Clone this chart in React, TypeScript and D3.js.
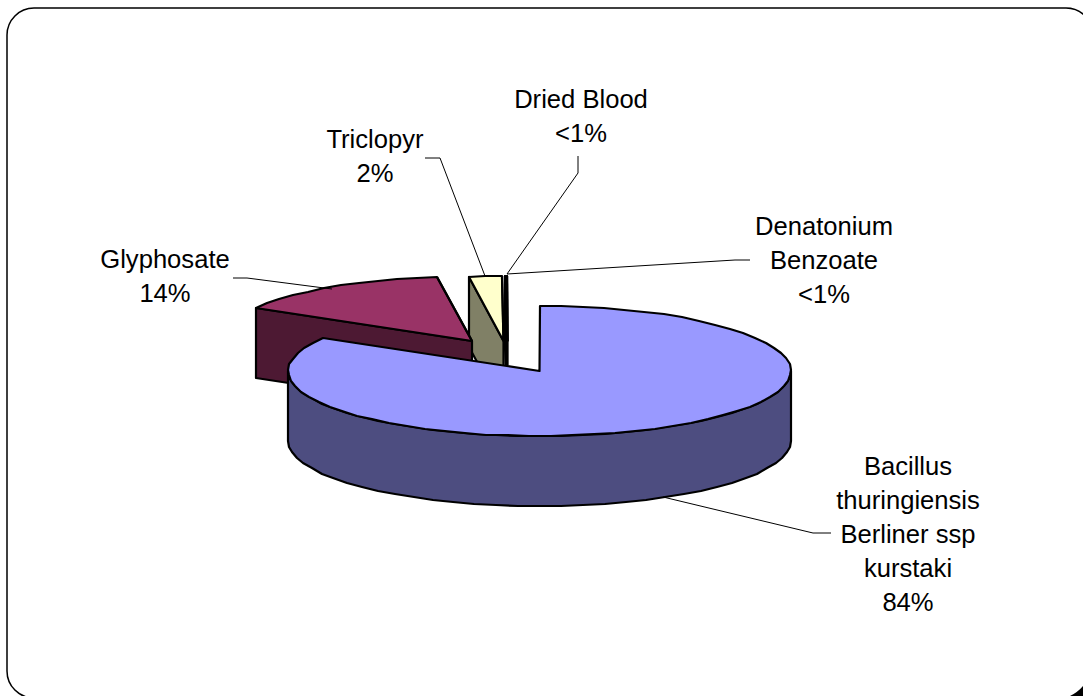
import React from "react";
import * as d3 from "d3";

const categories = ["Bacillus thuringiensis Berliner ssp kurstaki", "Glyphosate", "Triclopyr", "Dried Blood", "Denatonium Benzoate"];
const seriesValues = [83.5, 14.3, 2.1, 0.05, 0.05];
const topColors = ["#9999FF", "#993366", "#FFFFCC", "#CCFFFF", "#660066"];
const wallColors = ["#4D4D80", "#4D1933", "#808066", "#668080", "#330033"];
const centers: [number, number][] = [[539.5, 371], [472, 341], [503.5, 341], [507, 341], [507.5, 341]];
const labelLines = [
  { lines: ["Bacillus", "thuringiensis", "Berliner ssp", "kurstaki", "84%"], x: 908, y: 475 },
  { lines: ["Glyphosate", "14%"], x: 165, y: 268 },
  { lines: ["Triclopyr", "2%"], x: 375, y: 148 },
  { lines: ["Dried Blood", "<1%"], x: 581, y: 108 },
  { lines: ["Denatonium", "Benzoate", "<1%"], x: 824, y: 235 },
];
const leaders: [number, number][][] = [
  [[663, 497], [813, 533], [831, 533]],
  [[233, 278], [247, 278], [332, 289]],
  [[425, 158], [440, 158], [485, 276]],
  [[578, 156], [578, 173], [507, 274]],
  [[507, 274], [735, 260], [750, 260]],
];

const RX = 251.5, RY = 65, DEPTH = 70, LINE = 34;
const pie = d3.pie<number>().sort(null).value((d) => d).startAngle(0).endAngle(2 * Math.PI);
const arcs = pie(seriesValues);
const line = d3.line<[number, number]>();

const pt = (c: [number, number], a: number, dy = 0): [number, number] => [
  Math.round(c[0] + RX * Math.sin(a)),
  Math.round(c[1] - RY * Math.cos(a) + dy),
];
const sample = (c: [number, number], a0: number, a1: number, dy = 0) => {
  const n = Math.max(1, Math.ceil(Math.abs(a1 - a0) / (5 * Math.PI / 180)));
  return d3.range(n + 1).map((i) => pt(c, a0 + ((a1 - a0) * i) / n, dy));
};

const Slice = ({ i }: { i: number }) => {
  const c = centers[i];
  const { startAngle: s, endAngle: e } = arcs[i];
  const top: [number, number][] = [c, ...sample(c, s, e)];
  const sp = pt(c, s), ep = pt(c, e);
  const base: [number, number] = [c[0], c[1] + DEPTH];
  const faces: [number, number][][] = [];
  if (i > 0) {
    faces.push([c, sp, pt(c, s, DEPTH), base]);
  }
  const a0 = Math.max(s, Math.PI / 2), a1 = Math.min(e, 1.5 * Math.PI);
  if (a1 > a0) {
    faces.push([...sample(c, a0, a1), ...sample(c, a1, a0, DEPTH)]);
  }
  return (
    <g stroke="#000" strokeWidth={2.2} strokeLinejoin="round">
      {faces.map((f, k) => (
        <path key={k} d={line(f) + "Z"} fill={wallColors[i]} />
      ))}
      <path d={line(top) + "Z"} fill={topColors[i]} />
      {i > 0 && <path d={line([c, ep])!} fill="none" />}
    </g>
  );
};

export default function App() {
  return (
    <svg
      width={1083}
      height={696}
      viewBox="0 0 1083 696"
      style={{ position: "absolute", left: 0, top: 0, background: "#fff", display: "block" }}
    >
      <rect x={7} y={8} width={1086} height={690} rx={27} ry={27} fill="#fff" stroke="#000" strokeWidth={1.5} />
      <path d="M1070 696 Q1078 692 1083 686 L1083 696 Z" fill="#000" />
      {[4, 3, 2, 1, 0].map((i) => (
        <Slice key={i} i={i} />
      ))}
      <g fill="none" stroke="#000" strokeWidth={1}>
        {leaders.map((l, i) => (
          <path key={i} d={line(l)!} />
        ))}
      </g>
      <g fontFamily="'Liberation Sans', Arial, sans-serif" fontSize={25.6} fill="#000" textAnchor="middle">
        {labelLines.map((l, i) => (
          <text key={categories[i]} x={l.x} y={l.y}>
            {l.lines.map((t, k) => (
              <tspan key={k} x={l.x} y={l.y + k * LINE}>
                {t}
              </tspan>
            ))}
          </text>
        ))}
      </g>
    </svg>
  );
}
